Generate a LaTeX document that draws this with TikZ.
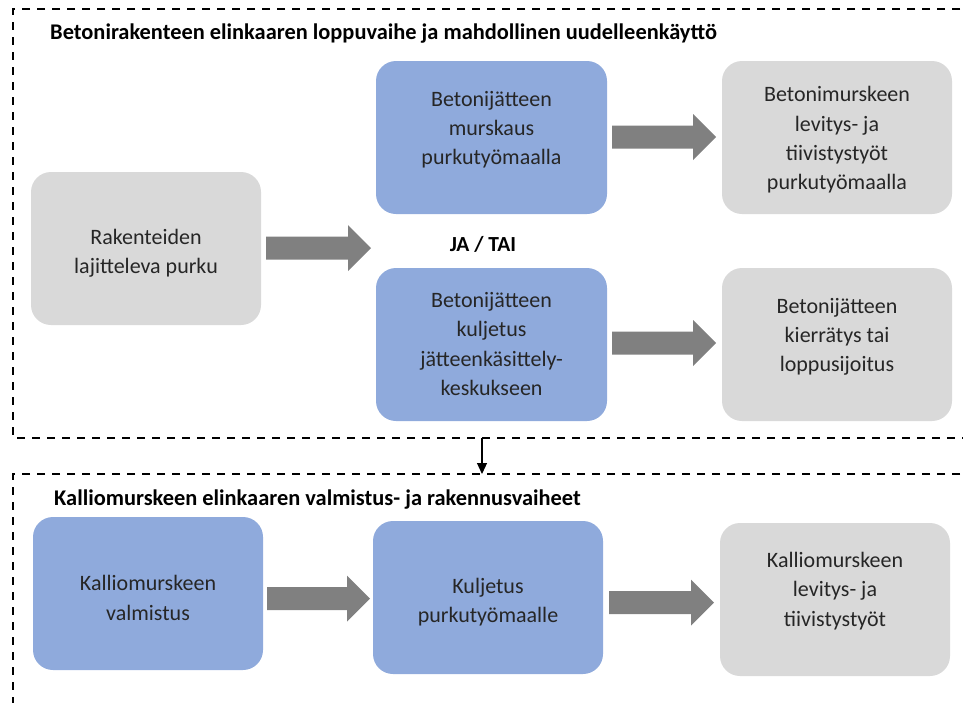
\documentclass[tikz,border=0pt]{standalone}
\usepackage{fontspec}
\setmainfont{Carlito}
\usetikzlibrary{arrows.meta}
\definecolor{boxblue}{HTML}{8FAADC}
\definecolor{boxgray}{HTML}{D9D9D9}
\definecolor{arrgray}{HTML}{808080}
\definecolor{txtc}{HTML}{262626}
\tikzset{
  box/.style={rounded corners=20pt, inner sep=0pt, draw=none},
  bluebox/.style={box, fill=boxblue},
  graybox/.style={box, fill=boxgray},
  txt/.style={align=center, text=txtc, font=\fontsize{22}{29.3}\selectfont, inner sep=0pt},
  ttl/.style={anchor=base west, text=black, font=\fontsize{22.4}{26}\selectfont\bfseries, inner sep=0pt},
  dashbox/.style={draw=black, line width=2pt, dash pattern=on 8pt off 7pt},
}
\newcommand\barrow[3]{%
  \fill[arrgray] (#1,#3-11.5) -- (#2-23,#3-11.5) -- (#2-23,#3-23) -- (#2,#3) -- (#2-23,#3+23) -- (#2-23,#3+11.5) -- (#1,#3+11.5) -- cycle;}
\begin{document}
\begin{tikzpicture}[x=1pt,y=-1pt]
\useasboundingbox (0,0) rectangle (963,702);
\clip (0,0) rectangle (963,702);
% dashed frames
\draw[dashbox] (975,9) -- (13,9) -- (13,438) -- (975,438);
\draw[dashbox] (975,474) -- (13,474) -- (13,712);
% titles
\node[ttl] (t1) at (50,39.5) {Betonirakenteen elinkaaren loppuvaihe ja mahdollinen uudelleenkäyttö};
\node[ttl] (t2) at (54,505.5) {Kalliomurskeen elinkaaren valmistus- ja rakennusvaiheet};
% boxes top section
\path[graybox] (31,172) rectangle (261,325);
\node[txt] (rak) at (146,253) {Rakenteiden\\lajitteleva purku};
\path[bluebox] (376,61) rectangle (607,214);
\node[txt] (mur) at (491.5,129.5) {Betonijätteen\\murskaus\\purkutyömaalla};
\path[graybox] (722,61) rectangle (952,214);
\node[txt] (lev) at (837,140) {Betonimurskeen\\levitys- ja\\tiivistystyöt\\purkutyömaalla};
\path[bluebox] (376,268) rectangle (607,421);
\node[txt] (kul) at (491.5,344) {Betonijätteen\\kuljetus\\jätteenkäsittely-\\keskukseen};
\path[graybox] (722,268) rectangle (952,421);
\node[txt] (kie) at (837,337) {Betonijätteen\\kierrätys tai\\loppusijoitus};
\node[text=black, font=\fontsize{21.5}{25}\selectfont\bfseries, inner sep=0pt] (jatai) at (483,244) {JA / TAI};
% boxes bottom section
\path[bluebox] (33,517) rectangle (263,670);
\node[txt] (kval) at (148,598) {Kalliomurskeen\\valmistus};
\path[bluebox] (373,521) rectangle (603,674);
\node[txt] (kkul) at (488,602) {Kuljetus\\purkutyömaalle};
\path[graybox] (720,523) rectangle (950,676);
\node[txt] (klev) at (835,591) {Kalliomurskeen\\levitys- ja\\tiivistystyöt};
% block arrows
\barrow{266}{371}{248}
\barrow{612}{716}{137}
\barrow{612}{716}{343}
\barrow{267}{370}{598.5}
\barrow{609}{714}{602.5}
% small connector
\coordinate (ca) at (482,438);
\coordinate (cb) at (482,474);
\draw[line width=1.2pt, -{Triangle[width=10pt,length=11pt]}] (ca) -- (cb);
\end{tikzpicture}
\end{document}
